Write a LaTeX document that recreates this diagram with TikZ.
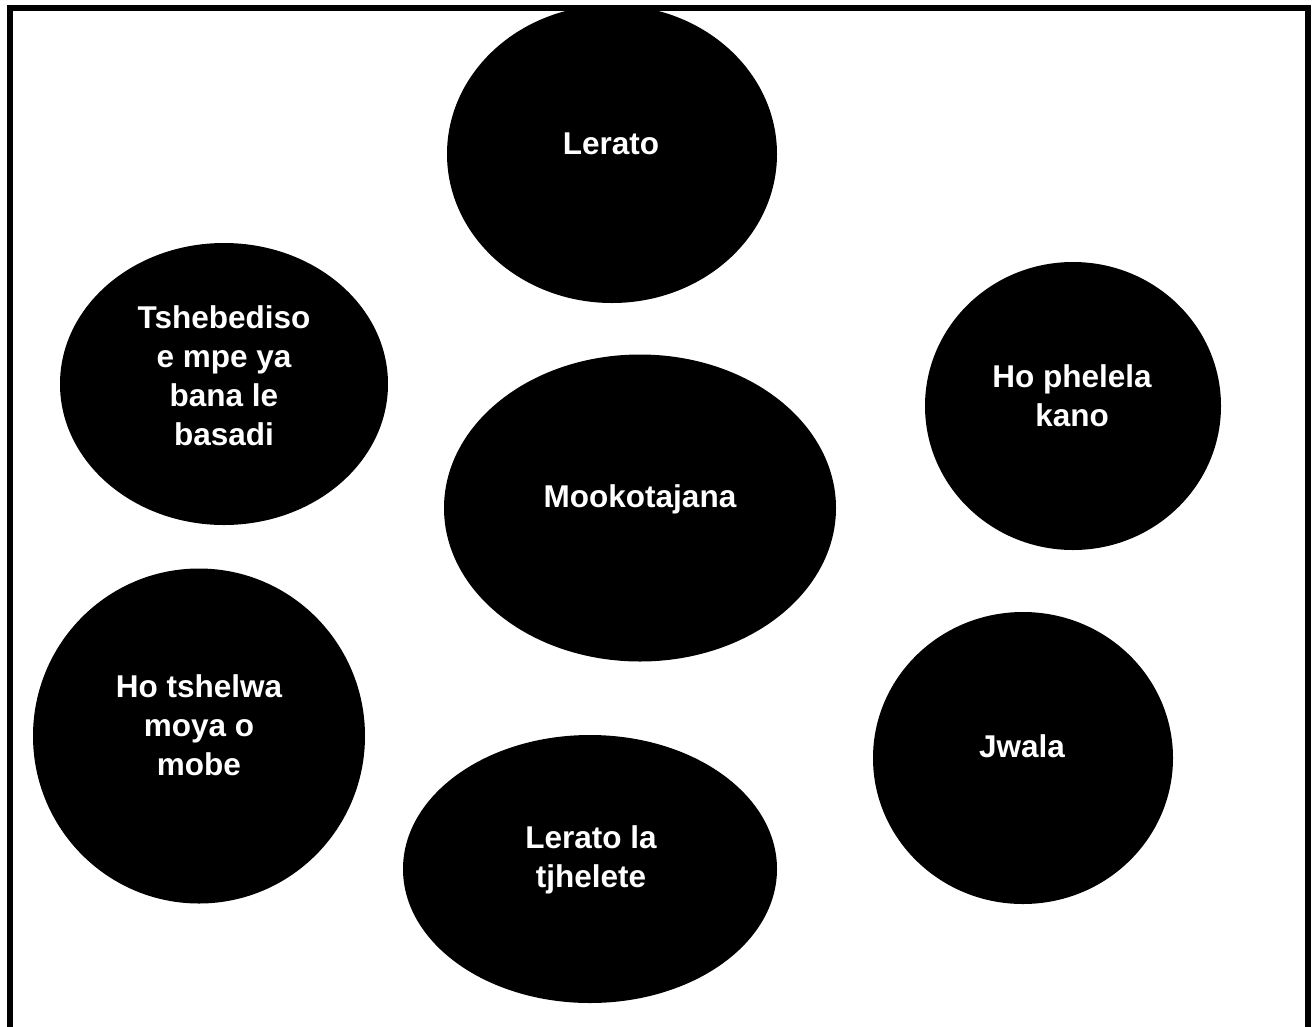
\documentclass[tikz,border=0pt]{standalone}
\usepackage{fontspec}
\setmainfont{Liberation Sans}
\usetikzlibrary{shapes.geometric}
\tikzset{
  blob/.style={ellipse, fill=black, draw=none, inner sep=0pt},
  lbl/.style={text=white, font=\fontsize{31.5}{39}\selectfont\bfseries, align=center, anchor=base, inner sep=0pt},
  frameline/.style={line width=6pt, draw=black, line join=miter}
}
\begin{document}
\begin{tikzpicture}[x=1pt,y=-1pt]
\useasboundingbox (0,0) rectangle (1312,1026);
\node[blob, minimum width=330pt, minimum height=298pt] (lerato) at (612,154) {};
\node[blob, minimum width=328pt, minimum height=282pt] (tsheb) at (224,384) {};
\node[blob, minimum width=296pt, minimum height=288pt] (phelela) at (1073,406) {};
\node[blob, minimum width=392pt, minimum height=307pt] (mook) at (640,508) {};
\node[blob, minimum width=332pt, minimum height=335pt] (tshelwa) at (199,736) {};
\node[blob, minimum width=300pt, minimum height=292pt] (jwala) at (1023,758) {};
\node[blob, minimum width=374pt, minimum height=268pt] (tjhelete) at (590,869) {};
\node[lbl] (tlerato) at (611,154) {Lerato};
\node[lbl] (ttsheb) at (224,445) {Tshebediso\\e mpe ya\\bana le\\basadi};
\node[lbl] (tphelela) at (1072,426) {Ho phelela\\kano};
\node[lbl] (tmook) at (640,507) {Mookotajana};
\node[lbl] (ttshelwa) at (199,775) {Ho tshelwa\\moya o\\mobe};
\node[lbl] (tjwala) at (1022,757) {Jwala};
\node[lbl] (ttjhelete) at (591,887) {Lerato la\\tjhelete};
\coordinate (fbl) at (10,1040);
\coordinate (ftl) at (10,8);
\coordinate (ftr) at (1308,8);
\coordinate (fbr) at (1308,1040);
\draw[frameline] (fbl) -- (ftl) -- (ftr) -- (fbr);
\end{tikzpicture}
\end{document}
